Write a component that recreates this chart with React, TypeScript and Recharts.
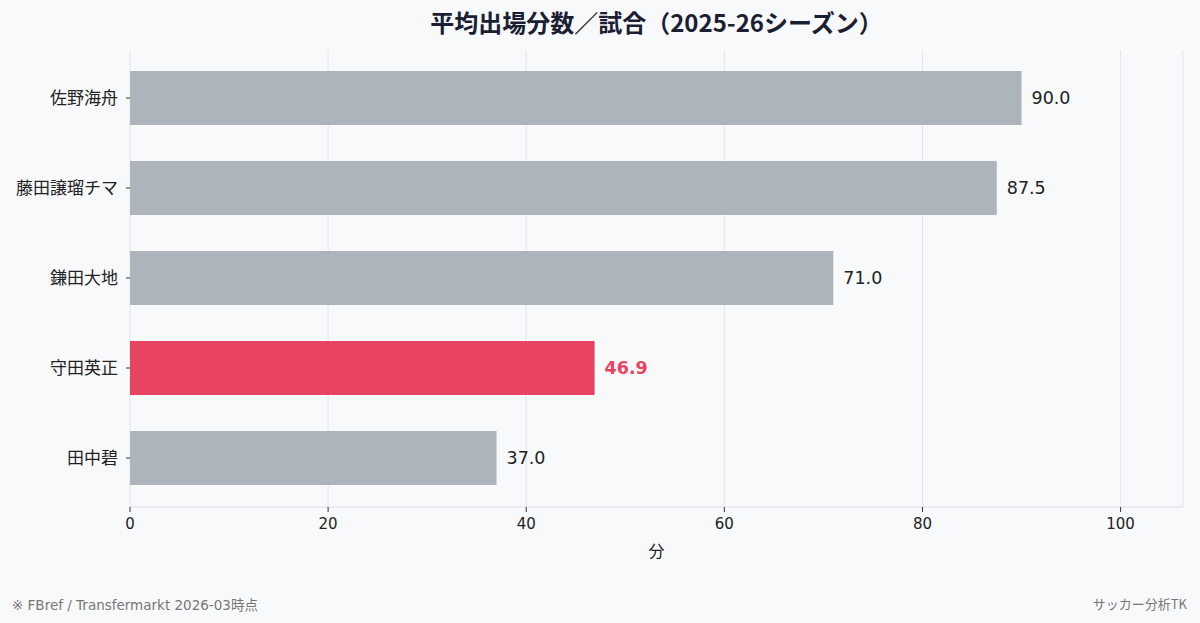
import React from "react";
import {
  ComposedChart,
  Bar,
  XAxis,
  YAxis,
  CartesianGrid,
  Cell,
  LabelList,
  Label,
} from "recharts";

const players = ["佐野海舟", "藤田譲瑠チマ", "鎌田大地", "守田英正", "田中碧"];
const minutesPerMatch = [90.0, 87.5, 71.0, 46.9, 37.0];
const highlightPlayer = "守田英正";
const xTicks = [0, 20, 40, 60, 80, 100];

const FONT = '"Noto Sans CJK JP", "Noto Sans", sans-serif';
const NUM_FONT = '"DejaVu Sans", "Noto Sans CJK JP", sans-serif';
const GREY = "#adb4bc";
const RED = "#e84361";

export default function App() {
  const chartData = players.map((name, i) => ({
    name,
    value: minutesPerMatch[i],
  }));

  // value label next to each bar, highlighted player in bold red
  const renderValue = (props: any) => {
    const { x, y, width, height, value, index } = props;
    const hl = players[index] === highlightPlayer;
    return (
      <text
        x={x + width + 10}
        y={y + height / 2}
        dy="0.35em"
        fontSize={17.5}
        fontFamily={NUM_FONT}
        fontWeight={hl ? 700 : 400}
        fill={hl ? RED : "#222"}
      >
        {Number(value).toFixed(1)}
      </text>
    );
  };

  return (
    <div
      style={{
        position: "absolute",
        top: 0,
        left: 0,
        width: 1200,
        height: 623,
        background: "#f8f9fb",
        fontFamily: FONT,
      }}
    >
      <div
        style={{
          position: "absolute",
          top: 4,
          left: 130,
          width: 1053,
          textAlign: "center",
          fontSize: 24,
          fontWeight: 700,
          color: "#1c1f33",
        }}
      >
        平均出場分数／試合（2025-26シーズン）
      </div>

      <ComposedChart
        width={1200}
        height={623}
        data={chartData}
        layout="vertical"
        margin={{ top: 50, right: 17, bottom: 66, left: 0 }}
      >
        <CartesianGrid horizontal={false} stroke="#e3e5e9" />
        <XAxis
          type="number"
          domain={[0, 106.3]}
          ticks={xTicks}
          allowDataOverflow
          height={50}
          stroke="#dcdee2"
          tickLine={{ stroke: "#333" }}
          tickSize={5}
          tickMargin={6}
          tick={{ fontSize: 15, fill: "#222", fontFamily: NUM_FONT }}
        >
          <Label
            value="分"
            position="insideBottom"
            offset={0}
            style={{ fontSize: 16, fill: "#222", fontFamily: FONT }}
          />
        </XAxis>
        <YAxis
          type="category"
          dataKey="name"
          width={130}
          axisLine={false}
          tickLine={{ stroke: "#333" }}
          tickSize={4}
          tickMargin={8}
          padding={{ top: 3, bottom: 4 }}
          tick={{ fontSize: 17, fill: "#222", fontFamily: FONT }}
        />
        <Bar dataKey="value" barSize={54} isAnimationActive={false}>
          {chartData.map((d) => (
            <Cell key={d.name} fill={d.name === highlightPlayer ? RED : GREY} />
          ))}
          <LabelList dataKey="value" content={renderValue} />
        </Bar>
      </ComposedChart>

      <div
        style={{
          position: "absolute",
          left: 12,
          top: 594,
          fontSize: 13.5,
          color: "#777",
          fontFamily: NUM_FONT,
        }}
      >
        ※ FBref / Transfermarkt 2026-03時点
      </div>
      <div
        style={{
          position: "absolute",
          right: 13,
          top: 594,
          fontSize: 13,
          color: "#777",
        }}
      >
        サッカー分析TK
      </div>
    </div>
  );
}
